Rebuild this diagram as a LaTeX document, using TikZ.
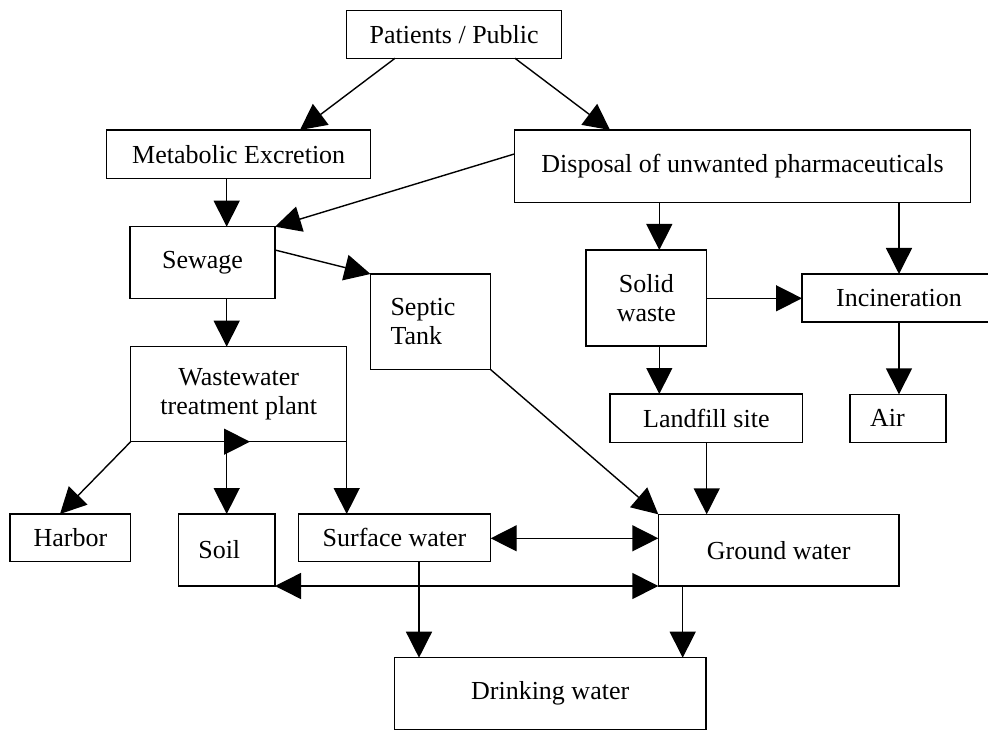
\documentclass[tikz,border=0pt]{standalone}
\usepackage{fontspec}
\setmainfont{Liberation Serif}
\usetikzlibrary{arrows.meta}
\begin{document}
\begin{tikzpicture}[x=1pt,y=-1pt,
  box/.style={draw, line width=1.4pt, inner sep=0pt, outer sep=0pt, anchor=north west, align=center,
    font=\fontsize{26}{29.5}\selectfont},
  lbox/.style={box, align=left, inner xsep=20pt},
  arr/.style={line width=1.4pt, -{Triangle[length=26pt,width=26pt]}},
  darr/.style={line width=1.4pt, {Triangle[length=26pt,width=26pt]}-{Triangle[length=26pt,width=26pt]}}
]
\path[use as bounding box, clip] (0,0) rectangle (988,730);
\fill[white] (0,0) rectangle (988,730);

% nodes
\node[box, minimum width=215pt, minimum height=47.6pt] (pat) at (346.7,10.7) {Patients / Public};
\node[box, minimum width=264pt, minimum height=48.3pt] (met) at (106.7,130) {Metabolic Excretion};
\node[box, minimum width=456.4pt, minimum height=72.3pt] (disp) at (514.3,130) {Disposal of unwanted pharmaceuticals};
\node[box, minimum width=145pt, minimum height=71.6pt] (sew) at (130,226.7) {Sewage};
\node[lbox, text width=80pt, minimum height=95.5pt] (sep) at (370.5,274) {Septic\\Tank};
\node[box, minimum width=216pt, minimum height=95pt] (wwtp) at (130.7,346.7) {Wastewater\\treatment plant};
\node[box, minimum width=120.7pt, minimum height=96pt] (solid) at (586,250) {Solid\\waste};
\node[box, minimum width=194pt, minimum height=48pt] (inc) at (802,274) {Incineration};
\node[box, minimum width=192.7pt, minimum height=48.3pt] (land) at (610,394) {Landfill site};
\node[lbox, text width=56pt, minimum height=48pt] (air) at (850,394.3) {Air};
\node[box, minimum width=120.7pt, minimum height=47.7pt] (harb) at (10,514) {Harbor};
\node[lbox, text width=56.7pt, minimum height=72pt] (soil) at (178.3,514) {Soil};
\node[box, minimum width=192.4pt, minimum height=47.7pt] (surf) at (298.3,514) {Surface water};
\node[box, minimum width=240.7pt, minimum height=71.7pt] (gw) at (658.3,514.3) {Ground water};
\node[box, minimum width=311.7pt, minimum height=71.6pt] (drink) at (394.3,657.7) {Drinking water};

% connectors
\draw[arr] ([xshift=48.3pt]pat.south west) -- ([xshift=193.3pt]met.north west);
\draw[arr] ([xshift=-46.7pt]pat.south east) -- ([xshift=95.7pt]disp.north west);
\draw[arr] ([yshift=-24pt]disp.north west) -- (sew.north east);
\draw[arr] ([xshift=-12pt]met.south) -- ([xshift=-12pt]met.south |- sew.north);
\draw[arr] ([yshift=-23.3pt]sew.north east) -- (sep.north west);
\draw[arr] ([xshift=96.7pt]sew.south west) -- ([xshift=96.7pt]sew.south west |- wwtp.north);
\draw[arr] (wwtp.south west) -- ([xshift=50pt]harb.north west);
\draw[arr] ([xshift=96pt]wwtp.south west) -- ([xshift=96pt]wwtp.south west |- soil.north);
\draw[arr] ([xshift=93.3pt]wwtp.south west) -- ([xshift=119.3pt]wwtp.south west);
\draw[arr] (wwtp.south east) -- (wwtp.south east |- surf.north);
\draw[arr] (sep.south east) -- (gw.north west);
\draw[arr] ([xshift=96.7pt]land.south west) -- ([xshift=96.7pt]land.south west |- gw.north);
\draw[arr] ([xshift=73.3pt]solid.south west) -- ([xshift=73.3pt]solid.south west |- land.north);
\draw[arr] ([xshift=145pt]disp.south west) -- ([xshift=145pt]disp.south west |- solid.north);
\draw[arr] ([xshift=384.7pt]disp.south west) -- ([xshift=384.7pt]disp.south west |- inc.north);
\draw[arr] ([yshift=-48.3pt]solid.north east) -- ([yshift=-48.3pt]solid.north east -| inc.west);
\draw[arr] ([xshift=97pt]inc.south west) -- ([xshift=97pt]inc.south west |- air.north);
\draw[darr] ([yshift=-24.3pt]surf.north east) -- ([yshift=-24.3pt]surf.north east -| gw.west);
\draw[darr] (soil.south east) -- (soil.south east -| gw.west);
\draw[arr] ([xshift=120.7pt]surf.south west) -- ([xshift=120.7pt]surf.south west |- drink.north);
\draw[arr] ([xshift=24.4pt]gw.south west) -- ([xshift=24.4pt]gw.south west |- drink.north);
\end{tikzpicture}
\end{document}
